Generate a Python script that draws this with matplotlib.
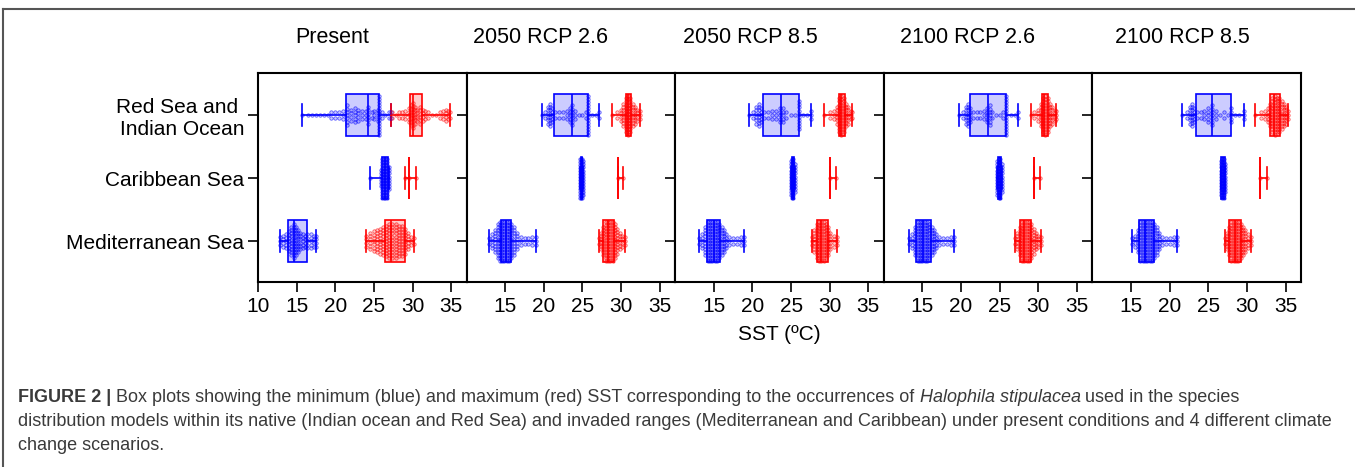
import numpy as np
import matplotlib
matplotlib.use("Agg")
import matplotlib.pyplot as plt
from matplotlib.lines import Line2D

plt.rcParams['font.family'] = ['Liberation Sans', 'DejaVu Sans']

# --- categories -----------------------------------------------------------
SCENARIOS = ["Present", "2050 RCP 2.6", "2050 RCP 8.5", "2100 RCP 2.6", "2100 RCP 8.5"]
REGIONS = ["Red Sea and \nIndian Ocean", "Caribbean Sea", "Mediterranean Sea"]

# --- box stats per region: (whislo, q1, median, q3, whishi) --------------
present_blue = [(15.7, 21.4, 24.3, 25.6, 27.2), (24.5, 26.1, 26.5, 26.8, 26.9), (12.8, 13.9, 14.7, 16.3, 17.5)]
present_red = [(27.2, 29.7, 30.0, 31.2, 34.8), (29.05, 29.6, 29.6, 29.6, 30.5), (24.0, 26.4, 27.2, 29.0, 30.2)]
rcp26_2050_blue = [(19.7, 21.3, 23.6, 25.75, 27.2), (24.7, 24.8, 24.9, 25.0, 25.1), (12.85, 14.45, 15.1, 15.8, 19.0)]
rcp26_2050_red = [(28.8, 30.6, 30.9, 31.3, 32.4), (29.6, 29.6, 29.6, 29.6, 30.3), (27.1, 27.7, 28.3, 29.1, 30.5)]
rcp85_2050_blue = [(19.55, 21.3, 23.7, 26.05, 27.6), (25.0, 25.1, 25.25, 25.4, 25.45), (13.05, 14.1, 15.0, 15.8, 18.95)]
rcp85_2050_red = [(29.3, 31.2, 31.5, 32.0, 32.9), (30.0, 30.0, 30.0, 30.0, 30.8), (27.7, 28.3, 28.9, 29.75, 30.95)]
rcp26_2100_blue = [(19.7, 21.2, 23.5, 25.8, 27.4), (24.7, 24.8, 25.0, 25.2, 25.3), (13.2, 14.15, 15.1, 16.05, 19.05)]
rcp26_2100_red = [(29.0, 30.5, 30.8, 31.25, 32.3), (29.45, 29.45, 29.45, 29.45, 30.2), (27.0, 27.6, 28.2, 29.1, 30.4)]
rcp85_2100_blue = [(21.65, 23.4, 25.5, 28.0, 29.6), (26.6, 26.7, 26.9, 27.1, 27.2), (15.1, 16.0, 16.85, 18.0, 21.0)]
rcp85_2100_red = [(31.1, 33.0, 33.5, 34.3, 35.3), (31.65, 31.65, 31.65, 31.65, 32.55), (27.1, 27.7, 28.4, 29.2, 30.5)]

# --- occurrence points per region: SST values and how many points sit there
present_blue_val = [[15.7, 16.5, 17, 17.5, 18, 18.5, 19, 19.5, 20, 20.5, 21, 21.5, 22, 22.5, 23, 23.5, 24, 24.3, 24.7, 25, 25.5, 25.7, 26, 26.5, 27, 27.2],
                    [24.5, 25.9, 26.1, 26.3, 26.5, 26.7, 26.9],
                    [12.8, 13.2, 13.6, 14, 14.3, 14.6, 14.9, 15.2, 15.5, 15.8, 16.1, 16.4, 16.8, 17.2, 17.5]]
present_blue_cnt = [[1, 1, 1, 1, 1, 1, 1, 2, 2, 2, 3, 7, 4, 5, 4, 3, 3, 6, 2, 3, 4, 14, 2, 1, 2, 2],
                    [1, 6, 14, 14, 14, 14, 8],
                    [3, 4, 5, 7, 10, 12, 10, 8, 6, 5, 4, 5, 5, 4, 4]]
present_red_val = [[27.3, 27.8, 28.2, 28.6, 29, 29.5, 29.8, 30, 30.3, 30.6, 31, 31.3, 31.6, 32, 32.5, 33, 33.5, 34, 34.3, 34.6, 34.8],
                   [29.05, 29.6, 30.5],
                   [24, 24.5, 25, 25.4, 25.8, 26.2, 26.6, 27, 27.4, 27.8, 28.2, 28.6, 29, 29.4, 29.8, 30.2]]
present_red_cnt = [[2, 1, 2, 2, 3, 5, 7, 9, 6, 4, 6, 4, 3, 2, 1, 1, 2, 3, 4, 3, 2],
                   [1, 1, 1],
                   [4, 6, 7, 8, 9, 10, 11, 12, 12, 12, 11, 11, 9, 6, 3, 2]]

rcp26_2050_blue_val = [[19.7, 20.2, 20.5, 20.8, 21.1, 21.5, 22, 22.5, 23, 23.4, 23.7, 24, 24.5, 25, 25.4, 25.75, 26.2, 26.8, 27.2],
                       [24.7, 24.85, 25.0, 25.1],
                       [12.85, 13.3, 13.7, 14, 14.3, 14.6, 14.9, 15.2, 15.5, 15.8, 16.1, 16.5, 17, 17.5, 18, 18.5, 19]]
rcp26_2050_blue_cnt = [[1, 2, 6, 8, 5, 2, 2, 2, 3, 5, 7, 3, 1, 1, 2, 14, 1, 1, 2],
                       [14, 14, 14, 12],
                       [2, 5, 8, 12, 14, 14, 14, 14, 14, 12, 10, 6, 3, 2, 2, 3, 3]]
rcp26_2050_red_val = [[28.8, 29.5, 30, 30.3, 30.6, 30.9, 31.2, 31.5, 31.8, 32.1, 32.4],
                      [29.6, 30.3],
                      [27.1, 27.4, 27.7, 28, 28.3, 28.6, 28.9, 29.2, 29.5, 29.8, 30.1, 30.5]]
rcp26_2050_red_cnt = [[1, 2, 4, 8, 12, 14, 12, 8, 6, 4, 3],
                      [1, 1],
                      [2, 6, 10, 14, 14, 14, 14, 12, 9, 6, 4, 3]]

rcp85_2050_blue_val = [[19.55, 20.1, 20.5, 20.8, 21.1, 21.5, 22, 22.5, 23, 23.5, 23.9, 24.3, 25, 25.5, 26.05, 26.5, 27, 27.6],
                       [25.0, 25.15, 25.3, 25.45],
                       [13.05, 13.5, 13.9, 14.2, 14.5, 14.8, 15.1, 15.4, 15.7, 16, 16.3, 16.6, 17, 17.5, 18, 18.5, 18.95]]
rcp85_2050_blue_cnt = [[1, 2, 6, 8, 5, 2, 2, 3, 3, 5, 5, 2, 1, 1, 10, 1, 1, 3],
                       [12, 14, 14, 10],
                       [2, 5, 10, 14, 14, 14, 14, 14, 12, 10, 8, 5, 3, 2, 2, 3, 3]]
rcp85_2050_red_val = [[29.3, 30, 30.5, 30.9, 31.2, 31.5, 31.8, 32.1, 32.4, 32.7, 32.9],
                      [30.0, 30.8],
                      [27.7, 28, 28.3, 28.6, 28.9, 29.2, 29.5, 29.8, 30.1, 30.5, 30.95]]
rcp85_2050_red_cnt = [[1, 2, 3, 6, 12, 14, 12, 8, 6, 3, 2],
                      [1, 1],
                      [3, 8, 12, 14, 14, 14, 12, 10, 6, 4, 3]]

rcp26_2100_blue_val = [[19.7, 20.2, 20.6, 20.9, 21.2, 21.6, 22, 22.5, 23, 23.4, 23.7, 24, 24.5, 25, 25.4, 25.8, 26.5, 27, 27.4],
                       [24.7, 24.9, 25.1, 25.3],
                       [13.2, 13.7, 14.1, 14.4, 14.7, 15, 15.3, 15.6, 15.9, 16.2, 16.5, 16.8, 17.2, 17.7, 18.2, 18.7, 19.05]]
rcp26_2100_blue_cnt = [[1, 2, 6, 8, 5, 2, 2, 2, 3, 5, 7, 2, 1, 1, 2, 14, 1, 1, 2],
                       [12, 14, 14, 10],
                       [2, 5, 10, 14, 14, 14, 14, 14, 12, 10, 8, 5, 3, 2, 2, 3, 3]]
rcp26_2100_red_val = [[29, 29.5, 30, 30.3, 30.6, 30.9, 31.2, 31.5, 31.8, 32.1, 32.3],
                      [29.45, 30.2],
                      [27, 27.3, 27.6, 27.9, 28.2, 28.5, 28.8, 29.1, 29.4, 29.7, 30, 30.4]]
rcp26_2100_red_cnt = [[1, 2, 4, 8, 12, 14, 12, 8, 6, 4, 3],
                      [1, 1],
                      [2, 6, 10, 14, 14, 14, 14, 12, 9, 6, 4, 3]]

rcp85_2100_blue_val = [[21.65, 22.2, 22.6, 22.9, 23.2, 23.6, 24, 24.5, 25, 25.5, 26, 26.5, 27, 27.5, 28, 28.5, 29, 29.6],
                       [26.6, 26.8, 27.0, 27.2],
                       [15.1, 15.5, 15.9, 16.2, 16.5, 16.8, 17.1, 17.4, 17.7, 18, 18.3, 18.6, 19, 19.5, 20, 20.5, 21]]
rcp85_2100_blue_cnt = [[1, 2, 6, 8, 5, 2, 2, 3, 5, 7, 3, 1, 2, 1, 5, 1, 1, 3],
                       [12, 14, 14, 10],
                       [2, 4, 8, 14, 14, 14, 14, 14, 14, 12, 10, 6, 3, 2, 2, 3, 3]]
rcp85_2100_red_val = [[31.1, 31.8, 32.3, 32.7, 33, 33.3, 33.6, 33.9, 34.2, 34.5, 34.8, 35.1, 35.3],
                      [31.65, 32.55],
                      [27.1, 27.4, 27.7, 28, 28.3, 28.6, 28.9, 29.2, 29.5, 29.8, 30.1, 30.5]]
rcp85_2100_red_cnt = [[1, 2, 3, 5, 8, 12, 14, 12, 12, 10, 8, 6, 3],
                      [1, 1],
                      [2, 6, 10, 14, 14, 14, 14, 12, 10, 8, 5, 3]]

BLUE_BOX = [present_blue, rcp26_2050_blue, rcp85_2050_blue, rcp26_2100_blue, rcp85_2100_blue]
RED_BOX = [present_red, rcp26_2050_red, rcp85_2050_red, rcp26_2100_red, rcp85_2100_red]
BLUE_VAL = [present_blue_val, rcp26_2050_blue_val, rcp85_2050_blue_val, rcp26_2100_blue_val, rcp85_2100_blue_val]
BLUE_CNT = [present_blue_cnt, rcp26_2050_blue_cnt, rcp85_2050_blue_cnt, rcp26_2100_blue_cnt, rcp85_2100_blue_cnt]
RED_VAL = [present_red_val, rcp26_2050_red_val, rcp85_2050_red_val, rcp26_2100_red_val, rcp85_2100_red_val]
RED_CNT = [present_red_cnt, rcp26_2050_red_cnt, rcp85_2050_red_cnt, rcp26_2100_red_cnt, rcp85_2100_red_cnt]

# --- layout (pixels of the 1355x467 figure) --------------------------------
W, H = 1355, 467
AX_LEFT, AX_TOP, AX_BOTTOM = 258, 73, 282
AX_W = 208.6
TITLE_X = [0.355, 0.356, 0.359, 0.40, 0.43]
BOX_H = 0.67
CAP_W = 0.35


def draw_group(ax, y, stats, vals, cnts, color, fill):
    lo, q1, med, q3, hi = stats
    line_kw = dict(color=color, lw=1.2)
    ax.bxp([dict(whislo=lo, q1=q1, med=med, q3=q3, whishi=hi, fliers=[])],
           positions=[y], widths=BOX_H, capwidths=CAP_W, orientation='horizontal',
           patch_artist=True, showfliers=False, manage_ticks=False,
           boxprops=dict(facecolor=fill, edgecolor=color, lw=1.2),
           whiskerprops=line_kw, capprops=line_kw, medianprops=line_kw)
    xs, ys = [], []
    for v, n in zip(vals, cnts):
        h = 0.31 * min(1.0, n / 14.0)
        offs = np.linspace(-h, h, n) if n > 1 else [0.0]
        xs += [v] * n
        ys += list(y + np.asarray(offs))
    rgb = matplotlib.colors.to_rgb(color)
    ax.scatter(xs, ys, s=6, facecolors=[rgb + (0.2,)], edgecolors=[rgb + (0.6,)],
               linewidths=0.6, zorder=4)


fig = plt.figure(figsize=(W / 100, H / 100), dpi=100)

for k, scen in enumerate(SCENARIOS):
    ax = fig.add_axes([(AX_LEFT + k * AX_W) / W, (H - AX_BOTTOM) / H,
                       AX_W / W, (AX_BOTTOM - AX_TOP) / H])
    for i in range(len(REGIONS)):
        y = 3 - i
        draw_group(ax, y, BLUE_BOX[k][i], BLUE_VAL[k][i], BLUE_CNT[k][i], "#0000ff", (0.0, 0.0, 1.0, 0.2))
        draw_group(ax, y, RED_BOX[k][i], RED_VAL[k][i], RED_CNT[k][i], "#ff0000", (1.0, 0.0, 0.0, 0.2))

    ax.set_xlim(10, 37)
    ax.set_ylim(0.35, 3.67)
    if k == 0:
        ax.set_xticks([10, 15, 20, 25, 30, 35])
        ax.set_yticks([3, 2, 1])
        ax.set_yticklabels(REGIONS, fontsize=15.5, ha='right', multialignment='right')
    else:
        ax.set_xticks([15, 20, 25, 30, 35])
        ax.set_yticks([3, 2, 1])
        ax.set_yticklabels([])
    ax.tick_params(axis='both', direction='out', length=7, width=1.2, labelsize=15, pad=4)
    ax.tick_params(axis='y', pad=3)
    for sp in ax.spines.values():
        sp.set_linewidth(1.5)
    ax.text(TITLE_X[k], 1 + 36 / (AX_BOTTOM - AX_TOP), scen, transform=ax.transAxes,
            ha='center', va='center', fontsize=15.5)
    if k == 2:
        ax.set_xlabel("SST (ºC)", fontsize=15, labelpad=6)

# frame around the figure panel
fig.add_artist(Line2D([3 / W, 1.0], [1 - 9 / H, 1 - 9 / H], color="#555555", lw=1.5))
fig.add_artist(Line2D([3 / W, 3 / W], [0.0, 1 - 9 / H], color="#555555", lw=1.5))

# caption, built from runs of text with different styles
CAP_FONT = ['Liberation Sans Narrow', 'Liberation Sans', 'DejaVu Sans']
CAP_COLOR = "#3a3a3a"
caption_lines = [
    [("FIGURE 2 |", dict(weight='bold')),
     (" Box plots showing the minimum (blue) and maximum (red) SST corresponding to the occurrences of ", {}),
     ("Halophila stipulacea", dict(style='italic')),
     (" used in the species", {})],
    [("distribution models within its native (Indian ocean and Red Sea) and invaded ranges (Mediterranean and Caribbean) under present conditions and 4 different climate", {})],
    [("change scenarios.", {})],
]
renderer = fig.canvas.get_renderer()
for j, runs in enumerate(caption_lines):
    x = 18 / W
    y = 1 - (398 + j * 24) / H
    for txt, kw in runs:
        t = fig.text(x, y, txt, fontsize=13, family=CAP_FONT, color=CAP_COLOR, va='center', **kw)
        x += t.get_window_extent(renderer).width / W

fig.savefig("out.png", dpi=100)
